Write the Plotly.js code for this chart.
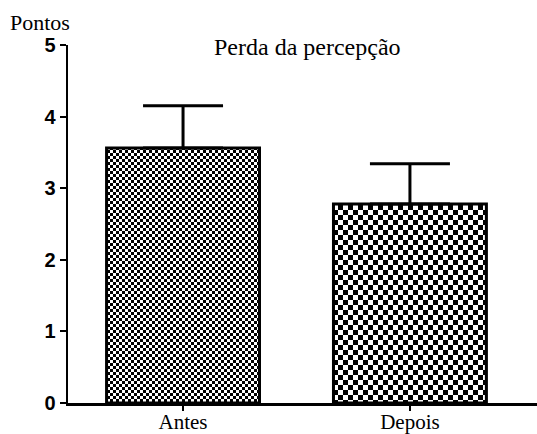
<!DOCTYPE html>
<html>
<head>
<meta charset="utf-8">
<script src="https://cdn.plot.ly/plotly-3.0.1.min.js"></script>
<style>
  html, body { margin: 0; padding: 0; background: #fff; }
  #chart { width: 537px; height: 434px; }
</style>
</head>
<body>
<div id="chart"></div>
<script>
// Perception loss score, before and after
const categories = ['Antes', 'Depois'];
const means = [3.56, 2.78];
const sdUpper = [0.59, 0.56];
const yTicks = [0, 1, 2, 3, 4, 5];

// checker cell period (px) per bar
const checkerPeriod = [6, 10];

const SERIF = '"Liberation Serif", "Times New Roman", serif';
const SANS = '"Liberation Sans", Arial, sans-serif';

const trace = {
  type: 'bar',
  x: categories,
  y: means,
  width: 0.674,
  marker: {
    color: '#000',
    line: { color: '#000', width: 3 },
    pattern: {
      shape: '.',
      fillmode: 'replace',
      fgcolor: '#000',
      bgcolor: '#fff',
      size: checkerPeriod,
      solidity: 0.5
    }
  },
  error_y: {
    type: 'data',
    symmetric: false,
    array: sdUpper,
    arrayminus: [0, 0],
    color: '#000',
    thickness: 3,
    width: 40
  },
  hoverinfo: 'skip'
};

const layout = {
  width: 537,
  height: 434,
  margin: { l: 68, r: 0, t: 45, b: 31 },
  paper_bgcolor: '#fff',
  plot_bgcolor: '#fff',
  showlegend: false,
  xaxis: {
    range: [-0.507, 1.56],
    showline: true,
    linecolor: '#000',
    linewidth: 2.5,
    ticks: 'outside',
    ticklen: 5,
    tickwidth: 2,
    tickcolor: '#000',
    showgrid: false,
    zeroline: false,
    ticklabelstandoff: -7,
    tickfont: { family: SERIF, size: 21, color: '#000' }
  },
  yaxis: {
    range: [0, 5],
    tickvals: yTicks,
    ticktext: yTicks.map(String),
    showline: true,
    linecolor: '#000',
    linewidth: 2.5,
    ticks: 'outside',
    ticklen: 6,
    tickwidth: 2,
    tickcolor: '#000',
    showgrid: false,
    zeroline: false,
    tickfont: { family: SANS, size: 20, color: '#000', weight: 'bold' }
  },
  annotations: [
    {
      text: 'Perda da percepção',
      xref: 'paper', yref: 'paper',
      x: (307 - 68) / 469, y: 1 - 2 / 358,
      xanchor: 'center', yanchor: 'middle',
      showarrow: false,
      font: { family: SERIF, size: 24, color: '#000' }
    },
    {
      text: 'Pontos',
      xref: 'paper', yref: 'paper',
      x: -60 / 469, y: 1 + 23 / 358,
      xanchor: 'left', yanchor: 'middle',
      showarrow: false,
      font: { family: SERIF, size: 22, color: '#000' }
    }
  ]
};

// Turn the dot tiles into checkerboard tiles
function checkerTiles(gd) {
  const ns = 'http://www.w3.org/2000/svg';
  gd.querySelectorAll('pattern').forEach(p => {
    const w = parseFloat(p.getAttribute('width'));
    const h = parseFloat(p.getAttribute('height'));
    while (p.firstChild) p.removeChild(p.firstChild);
    const bg = document.createElementNS(ns, 'rect');
    bg.setAttribute('width', w); bg.setAttribute('height', h);
    bg.setAttribute('fill', '#fff');
    p.appendChild(bg);
    [[0, 0], [w / 2, h / 2]].forEach(([px, py]) => {
      const r = document.createElementNS(ns, 'rect');
      r.setAttribute('x', px); r.setAttribute('y', py);
      r.setAttribute('width', w / 2); r.setAttribute('height', h / 2);
      r.setAttribute('fill', '#000');
      r.setAttribute('shape-rendering', 'crispEdges');
      p.appendChild(r);
    });
  });
}

const gd = document.getElementById('chart');
Plotly.newPlot(gd, [trace], layout, { staticPlot: true, displayModeBar: false })
  .then(() => checkerTiles(gd));
</script>
</body>
</html>
